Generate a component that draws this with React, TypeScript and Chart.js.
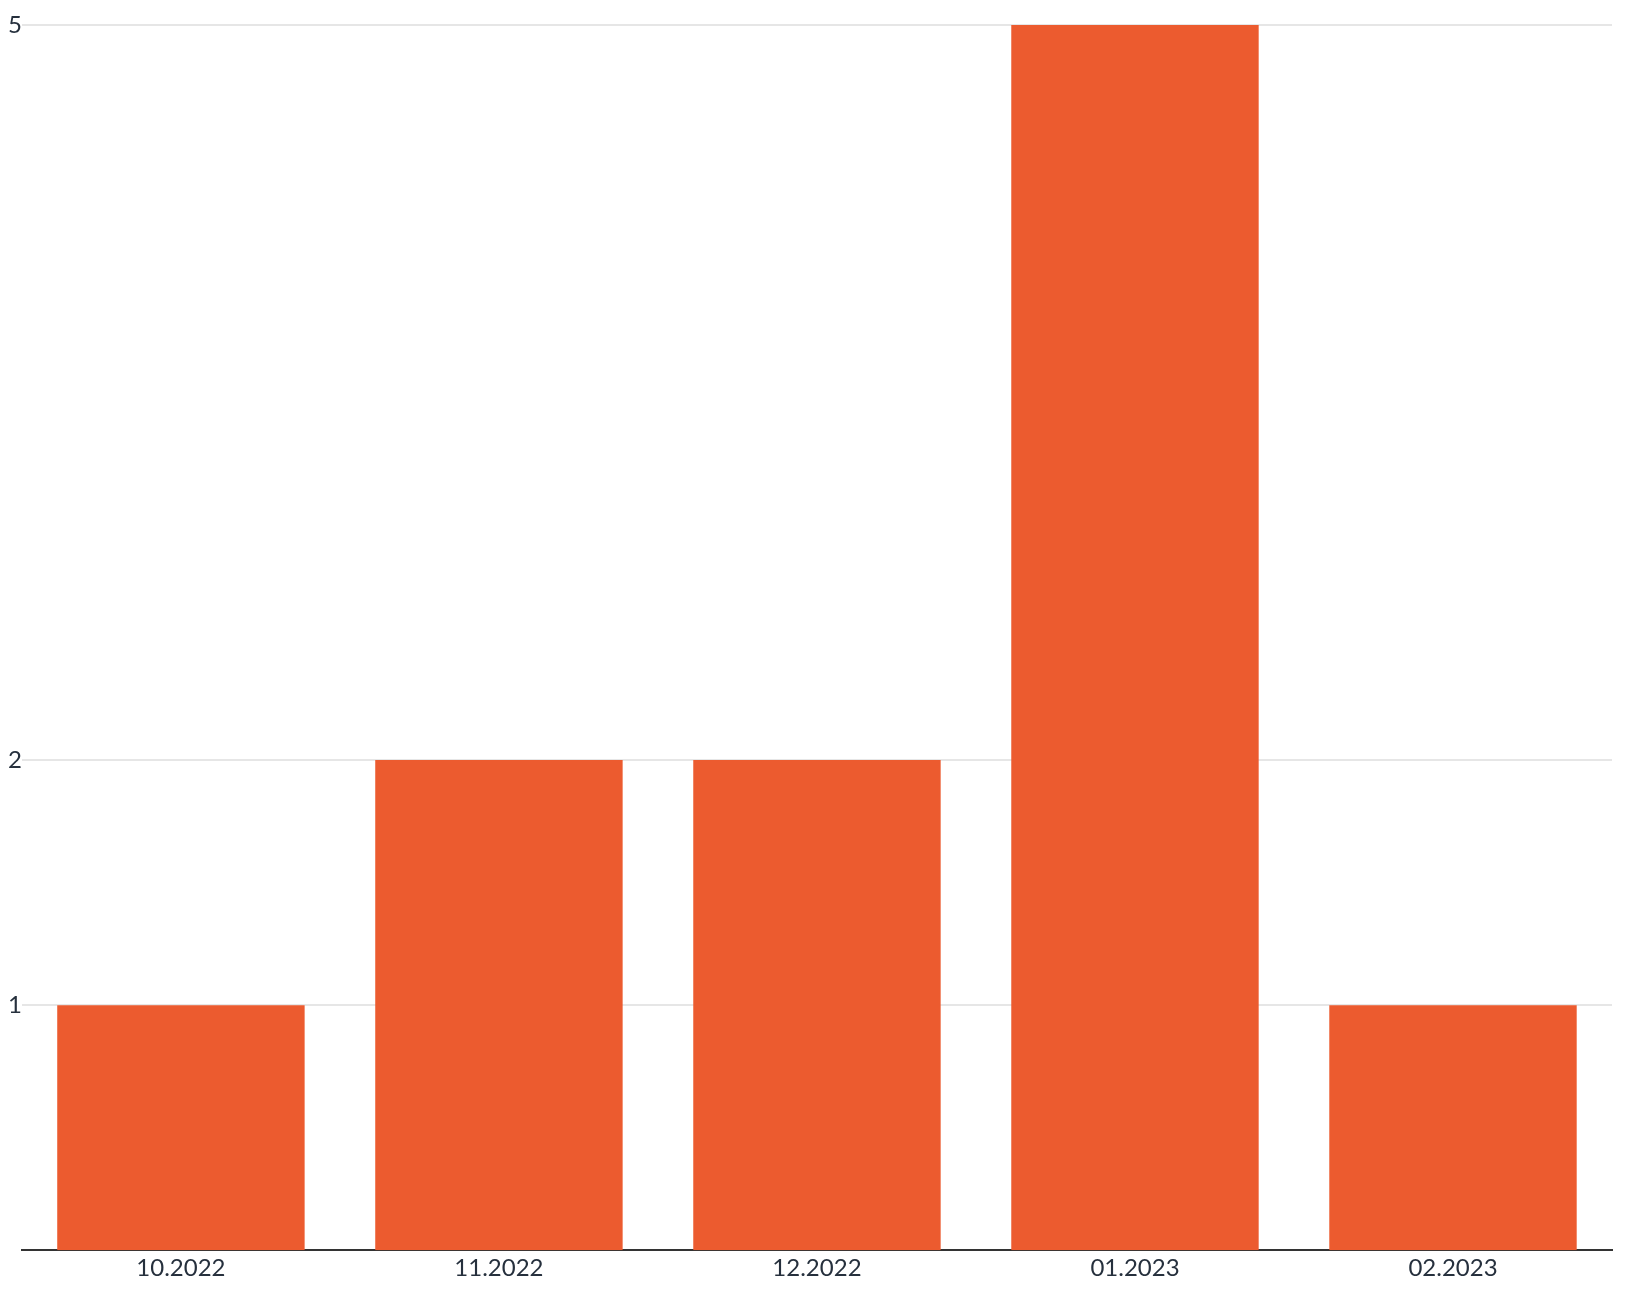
import React, { useEffect, useRef } from "react";
import { Chart, registerables } from "chart.js";

Chart.register(...registerables);

const categories = ["10.2022", "11.2022", "12.2022", "01.2023", "02.2023"];
const counts = [1, 2, 2, 5, 1];
const yTickValues = [1, 2, 5];

export default function App() {
  const ref = useRef<HTMLCanvasElement | null>(null);
  useEffect(() => {
    if (!ref.current) return;
    const chart = new Chart(ref.current, {
      type: "bar",
      data: {
        labels: categories,
        datasets: [
          {
            data: counts,
            backgroundColor: "#EC5B2F",
            barPercentage: 0.778,
            categoryPercentage: 1,
          },
        ],
      },
      options: {
        animation: false,
        responsive: true,
        maintainAspectRatio: false,
        layout: { padding: { top: 17, right: 14, bottom: 0, left: 0 } },
        plugins: { legend: { display: false }, tooltip: { enabled: false } },
        scales: {
          x: {
            grid: { display: false, drawTicks: false },
            border: { display: true, color: "#333333", width: 2 },
            ticks: {
              color: "#26303D",
              font: { family: "Lato", size: 24 },
              padding: 4,
            },
          },
          y: {
            min: 0,
            max: 5,
            afterBuildTicks: (scale: any) => {
              scale.ticks = yTickValues.map((v) => ({ value: v }));
            },
            grid: { color: "#E6E6E6", lineWidth: 2, drawTicks: false },
            border: { display: false },
            ticks: {
              color: "#26303D",
              font: { family: "Lato", size: 24 },
              padding: 0,
            },
          },
        },
      },
    });
    return () => chart.destroy();
  }, []);
  return (
    <div style={{ position: "absolute", left: 8, top: 8, width: 1618, height: 1279 }}>
      <canvas ref={ref} />
    </div>
  );
}
